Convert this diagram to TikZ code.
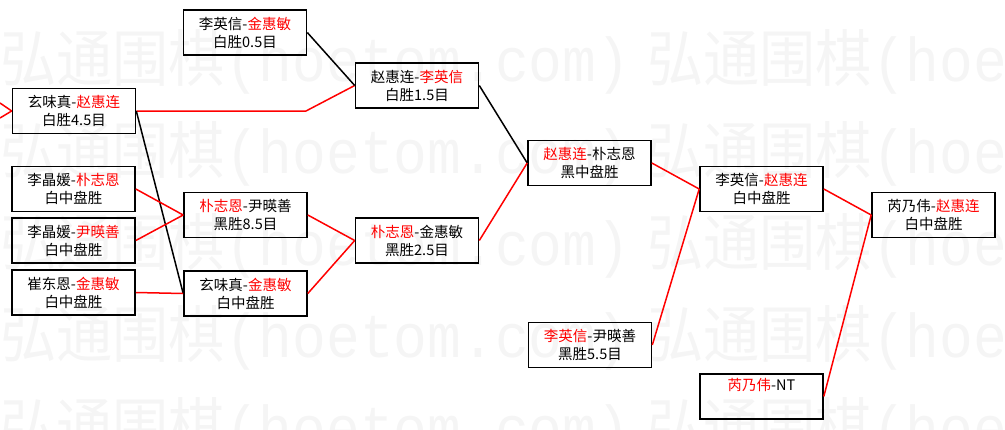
\documentclass[tikz,border=0pt]{standalone}
\usepackage{fontspec}
\newfontfamily\cjk{Noto Sans CJK SC}
\newfontfamily\wmmono{Liberation Mono}
\newcommand\redname[1]{\textcolor{red}{#1}}
\newcommand\wmtext{\resizebox{630pt}{52pt}{\cjk 弘通围棋{\wmmono (hoetom.com)}}}
\begin{document}
\begin{tikzpicture}[x=1pt,y=-1pt,
  box/.style={draw=black,line width=1.6pt,minimum width=123pt,minimum height=45pt,
    inner sep=0pt,align=center,font=\cjk\fontsize{14.5}{18}\selectfont},
  win/.style={draw=red,line width=1.5pt},
  lose/.style={draw=black,line width=1.5pt},
  wm/.style={anchor=west,inner sep=0pt,text=black!4}]
\useasboundingbox (0,0) rectangle (1005,429);
% watermark
\foreach \yy in {62,154,246,338,430}{
  \node[wm] at (0,\yy) {\wmtext};
  \node[wm] at (647,\yy) {\wmtext};
}
% boxes
\node[box] (b1) at (74,111) {玄味真-\redname{赵惠连}\\白胜4.5目};
\node[box] (b2) at (245,32.5) {李英信-\redname{金惠敏}\\白胜0.5目};
\node[box] (b3) at (417,85.5) {赵惠连-\redname{李英信}\\白胜1.5目};
\node[box] (b4) at (589.5,163) {\redname{赵惠连}-朴志恩\\黑中盘胜};
\node[box] (b5) at (417,240.5) {\redname{朴志恩}-金惠敏\\黑胜2.5目};
\node[box] (b6) at (73.5,189) {李晶媛-\redname{朴志恩}\\白中盘胜};
\node[box] (b7) at (73.5,240.5) {李晶媛-\redname{尹暎善}\\白中盘胜};
\node[box] (b8) at (73.5,292.5) {崔东恩-\redname{金惠敏}\\白中盘胜};
\node[box] (b9) at (245.5,215) {\redname{朴志恩}-尹暎善\\黑胜8.5目};
\node[box] (b10) at (245.5,293.5) {玄味真-\redname{金惠敏}\\白中盘胜};
\node[box] (b11) at (761.5,189) {李英信-\redname{赵惠连}\\白中盘胜};
\node[box] (b12) at (933.5,215) {芮乃伟-\redname{赵惠连}\\白中盘胜};
\node[box] (b13) at (590,345) {\redname{李英信}-尹暎善\\黑胜5.5目};
\node[box] (b14) at (761.5,396.5) {\redname{芮乃伟}-NT\\\strut};
% connectors
\coordinate (in1) at (0,103);
\coordinate (in2) at (0,118);
\coordinate (k1) at (306,111);
\draw[win] (in1) -- (b1.west);
\draw[win] (in2) -- (b1.west);
\draw[win] (b1.east) -- (k1) -- (b3.west);
\draw[lose] (b2.east) -- (b3.west);
\draw[lose] (b1.east) -- (b10.west);
\draw[win] (b6.east) -- (b9.west);
\draw[win] (b7.east) -- (b9.west);
\draw[win] (b8.east) -- (b10.west);
\draw[win] (b9.east) -- (b5.west);
\draw[win] (b10.east) -- (b5.west);
\draw[lose] (b3.east) -- (b4.west);
\draw[win] (b5.east) -- (b4.west);
\draw[win] (b4.east) -- (b11.west);
\draw[win] (b13.east) -- (b11.west);
\draw[win] (b11.east) -- (b12.west);
\draw[win] (b14.east) -- (b12.west);
\end{tikzpicture}
\end{document}
